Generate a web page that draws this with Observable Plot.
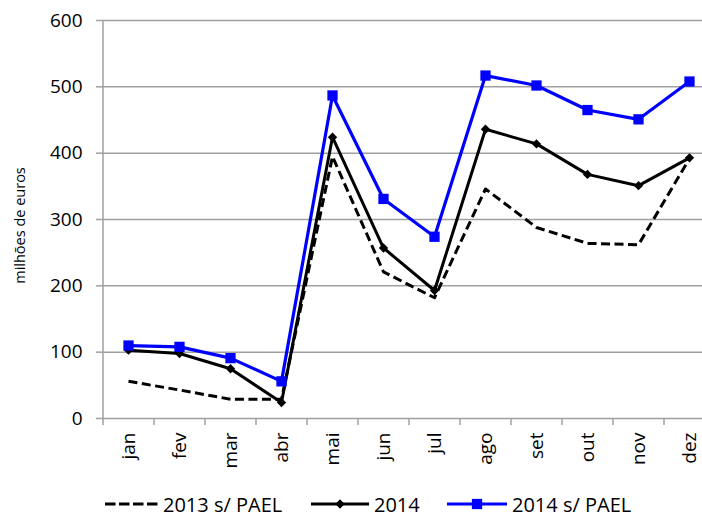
<!DOCTYPE html>
<html>
<head>
<meta charset="utf-8">
<script src="https://cdn.jsdelivr.net/npm/d3@7"></script>
<script src="https://cdn.jsdelivr.net/npm/@observablehq/plot@0.6"></script>
<style>
  html, body { margin: 0; padding: 0; background: white; overflow: hidden; }
  #wrap { position: relative; width: 702px; height: 517px; overflow: hidden; }
  #legend { position: absolute; left: 0; top: 470px; }
</style>
</head>
<body>
<div id="wrap"></div>
<script>
const months = ["jan","fev","mar","abr","mai","jun","jul","ago","set","out","nov","dez"];
const s2013pael = [56, 43, 29, 29, 395, 221, 182, 346, 288, 264, 262, 392];
const s2014 = [103, 98, 75, 24, 424, 257, 193, 436, 414, 368, 351, 393];
const s2014pael = [110, 108, 91, 56, 487, 331, 274, 517, 502, 465, 451, 508];
const yTicks = [0, 100, 200, 300, 400, 500, 600];
const seriesNames = ["2013 s/ PAEL", "2014", "2014 s/ PAEL"];
const yTitle = "milhões de euros";

const rows = months.map((m, i) => ({month: m, a: s2013pael[i], b: s2014[i], c: s2014pael[i]}));
const gridColor = "#a0a0a0";
const blue = "#0000ff";

const chart = Plot.plot({
  width: 702,
  height: 470,
  marginTop: 20,
  marginBottom: 52,
  marginLeft: 102,
  marginRight: 0,
  style: {fontFamily: "'Open Sans', sans-serif", fontSize: "19px", background: "white", color: "black", overflow: "hidden"},
  x: {type: "point", domain: months, range: [102, 714], padding: 0.5, label: null},
  y: {domain: [0, 600], label: null},
  marks: [
    Plot.gridY(yTicks, {stroke: gridColor, strokeOpacity: 1, strokeWidth: 1.5}),
    Plot.ruleX([months[0]], {y1: 0, y2: 600, dx: -25.5, stroke: gridColor, strokeWidth: 1.5}),
    Plot.axisY(yTicks, {tickSize: 6, tickPadding: 14, stroke: gridColor, strokeWidth: 1.5, fill: "black", label: null}),
    Plot.axisX(months, {tickSize: 7, dx: -25.5, tickFormat: () => "", stroke: gridColor, strokeWidth: 1.5, label: null}),
    Plot.axisX(months, {tickSize: 0, tickPadding: 14, tickRotate: -90, fill: "black", label: null}),
    Plot.text([yTitle], {frameAnchor: "left", textAnchor: "middle", dx: -82, dy: 6, rotate: -90, fontSize: 14.5, fill: "black"}),
    Plot.line(rows, {x: "month", y: "a", stroke: "black", strokeWidth: 3, strokeDasharray: "9,4.5", strokeLinecap: "butt"}),
    Plot.line(rows, {x: "month", y: "b", stroke: "black", strokeWidth: 3}),
    Plot.dot(rows, {x: "month", y: "b", symbol: "diamond2", r: 4.2, fill: "black", stroke: "none"}),
    Plot.line(rows, {x: "month", y: "c", stroke: blue, strokeWidth: 3.2}),
    Plot.dot(rows, {x: "month", y: "c", symbol: "square", r: 5.8, fill: blue, stroke: "none"})
  ]
});
chart.style.position = "absolute";
chart.style.left = "0px";
chart.style.top = "0px";
document.getElementById("wrap").appendChild(chart);

// Legend
const lg = d3.select("#wrap").append("svg")
  .attr("id", "legend").attr("width", 702).attr("height", 47)
  .style("font-family", "'Open Sans', sans-serif").style("font-size", "20px");
const ly = 34, ty = 41.5;
// dashed
lg.append("line").attr("x1", 105).attr("x2", 158).attr("y1", ly).attr("y2", ly)
  .attr("stroke", "black").attr("stroke-width", 3).attr("stroke-dasharray", "10.5,3.5");
lg.append("text").attr("x", 163).attr("y", ty).text(seriesNames[0]);
// 2014
lg.append("line").attr("x1", 311).attr("x2", 369).attr("y1", ly).attr("y2", ly)
  .attr("stroke", "black").attr("stroke-width", 3);
lg.append("path").attr("transform", `translate(340,${ly})`)
  .attr("d", d3.symbol(d3.symbolDiamond2, Math.PI * 4.2 * 4.2)()).attr("fill", "black");
lg.append("text").attr("x", 374).attr("y", ty).text(seriesNames[1]);
// 2014 s/ PAEL
lg.append("line").attr("x1", 447).attr("x2", 507).attr("y1", ly).attr("y2", ly)
  .attr("stroke", blue).attr("stroke-width", 3.2);
lg.append("path").attr("transform", `translate(477,${ly})`)
  .attr("d", d3.symbol(d3.symbolSquare, Math.PI * 5.8 * 5.8)()).attr("fill", blue);
lg.append("text").attr("x", 512).attr("y", ty).text(seriesNames[2]);
</script>
</body>
</html>
